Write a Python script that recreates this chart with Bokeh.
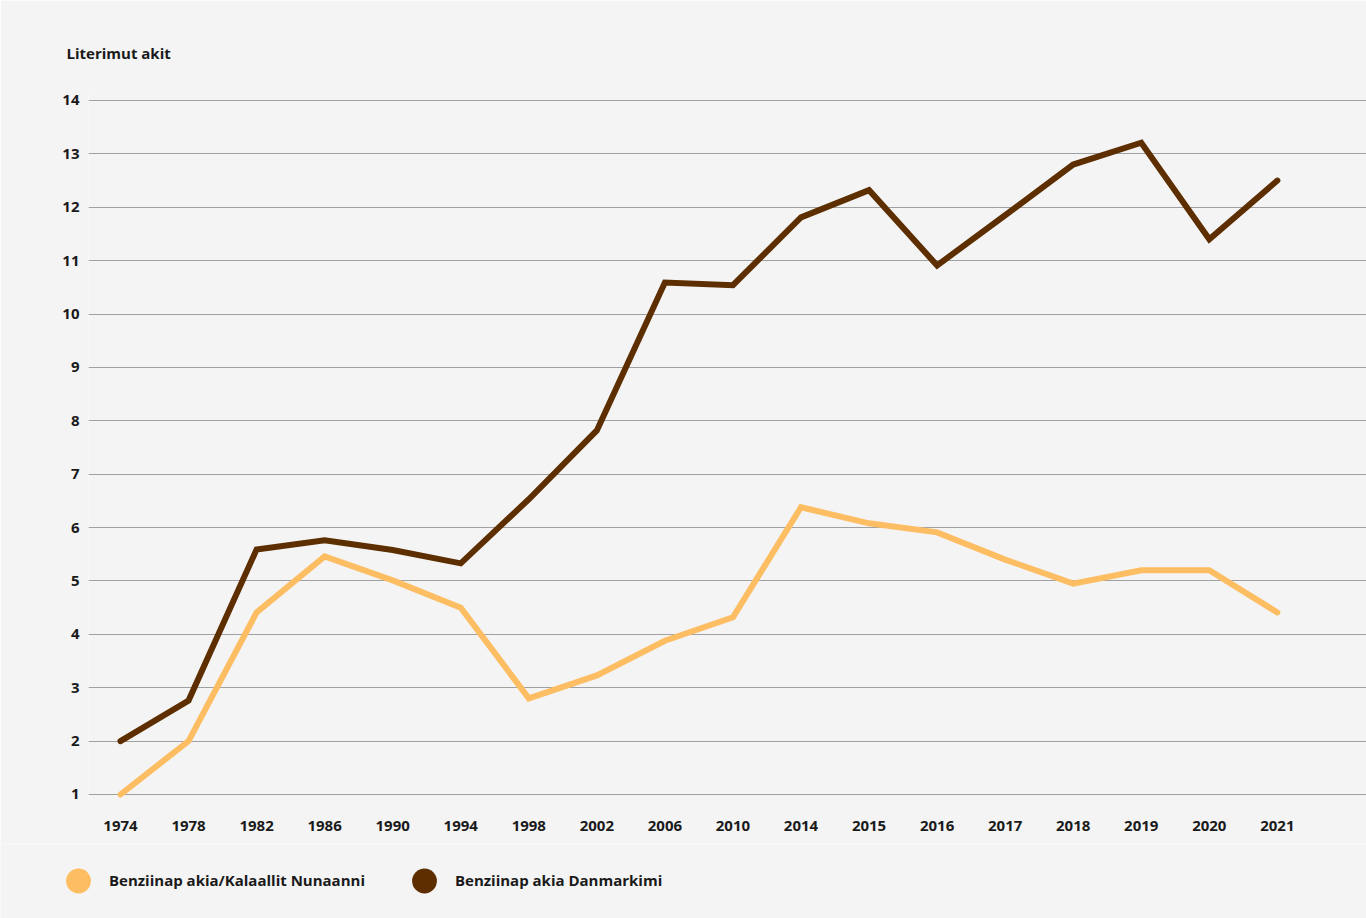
from bokeh.plotting import figure
from bokeh.layouts import column
from bokeh.models import FixedTicker, Legend, LegendItem, Range1d
from bokeh.embed import file_html
from bokeh.resources import INLINE

years = ["1974", "1978", "1982", "1986", "1990", "1994", "1998", "2002", "2006",
         "2010", "2014", "2015", "2016", "2017", "2018", "2019", "2020", "2021"]
greenland = [1.00, 2.00, 4.41, 5.46, 5.01, 4.50, 2.80, 3.23, 3.88,
             4.32, 6.38, 6.08, 5.91, 5.40, 4.95, 5.20, 5.20, 4.41]
denmark = [2.00, 2.76, 5.59, 5.76, 5.58, 5.33, 6.53, 7.82, 10.59,
           10.54, 11.81, 12.32, 10.91, 11.85, 12.80, 13.21, 11.40, 12.50]
y_ticks = list(range(1, 15))
series_names = ["Benziinap akia/Kalaallit Nunaanni", "Benziinap akia Danmarkimi"]
y_title = "Literimut akit"

LIGHT = "#fdbd63"
DARK = "#5c2e00"
BG = "#f4f4f4"
FONT = "Open Sans"
TEXT = "#1a1a1a"

xs = list(range(len(years)))

# ---- main chart ----
p = figure(width=1366, height=844, output_backend="svg", toolbar_location=None,
           x_range=Range1d(-0.470, 18.31), y_range=Range1d(0.8876, 14.187),
           min_border_left=88, min_border_right=0, min_border_top=90,
           min_border_bottom=44, title=y_title)
p.frame_align = False
p.background_fill_color = BG
p.border_fill_color = BG
p.outline_line_color = None

p.title.align = "left"
p.title.offset = -22
p.title.standoff = 55
p.title.text_font = FONT
p.title.text_font_style = "bold"
p.title.text_font_size = "15px"
p.title.text_color = TEXT

p.xgrid.visible = False
p.ygrid.grid_line_color = "#a0a0a0"
p.ygrid.grid_line_width = 1
p.ygrid.ticker = FixedTicker(ticks=y_ticks)

p.yaxis.ticker = FixedTicker(ticks=y_ticks)
p.xaxis.ticker = FixedTicker(ticks=xs)
p.xaxis.major_label_overrides = {i: y for i, y in enumerate(years)}
for ax in (p.xaxis, p.yaxis):
    ax.axis_line_color = None
    ax.major_tick_line_color = None
    ax.minor_tick_line_color = None
    ax.major_tick_out = 0
    ax.major_tick_in = 0
    ax.major_label_text_font = FONT
    ax.major_label_text_font_style = "bold"
    ax.major_label_text_font_size = "15px"
    ax.major_label_text_color = TEXT
p.yaxis.major_label_standoff = 9
p.xaxis.major_label_standoff = 20

p.line(xs, greenland, line_color=LIGHT, line_width=6, line_cap="round", line_join="miter")
p.line(xs, denmark, line_color=DARK, line_width=6, line_cap="round", line_join="miter")

# ---- legend strip ----
lg = figure(width=1366, height=74, output_backend="svg", toolbar_location=None,
            x_range=Range1d(0, 1366), y_range=Range1d(0, 74),
            x_axis_type=None, y_axis_type=None,
            min_border_left=0, min_border_right=0, min_border_top=0,
            min_border_bottom=0)
lg.frame_align = False
lg.background_fill_color = BG
lg.border_fill_color = BG
lg.outline_line_color = None
lg.grid.visible = False

r1 = lg.scatter(xs, greenland, size=0, fill_color=LIGHT, line_color=None)
r2 = lg.scatter(xs, denmark, size=0, fill_color=DARK, line_color=None)

legend = Legend(items=[LegendItem(label=series_names[0], renderers=[r1]),
                       LegendItem(label=series_names[1], renderers=[r2])],
                location=(47, 5.5), orientation="horizontal",
                glyph_width=62, glyph_height=65, label_standoff=0,
                spacing=28, padding=0, margin=0,
                border_line_color=None, background_fill_alpha=0,
                label_text_font=FONT, label_text_font_style="bold",
                label_text_font_size="15px", label_text_color=TEXT,
                label_text_baseline="middle")
lg.add_layout(legend, "center")

layout = column(p, lg, spacing=0)

html = file_html(layout, INLINE)
html = html.replace("<body>", '<body style="margin:0;background:%s;overflow:hidden;">' % BG, 1)
open("out.html", "w").write(html)
